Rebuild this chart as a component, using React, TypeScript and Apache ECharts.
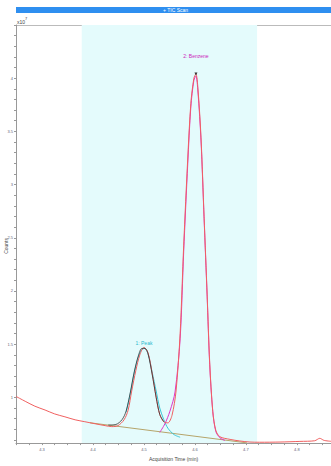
import React, { useEffect, useRef } from "react";
import * as echarts from "echarts";

const xTickLabels = [4.3, 4.4, 4.5, 4.6, 4.7, 4.8];
const yTickLabels = [1, 1.5, 2, 2.5, 3, 3.5, 4];

const rawTimes = [4.249, 4.267, 4.286, 4.306, 4.325, 4.345, 4.365, 4.384, 4.404, 4.424, 4.437, 4.449, 4.461, 4.469, 4.476, 4.484, 4.492, 4.5, 4.508, 4.516, 4.524, 4.531, 4.539, 4.547, 4.555, 4.563, 4.571, 4.578, 4.586, 4.592, 4.598, 4.602, 4.606, 4.612, 4.618, 4.624, 4.629, 4.635, 4.641, 4.649, 4.669, 4.688, 4.708, 4.727, 4.767, 4.806, 4.835, 4.845, 4.853, 4.867];
const rawCounts = [1.009, 0.963, 0.917, 0.881, 0.844, 0.817, 0.789, 0.771, 0.752, 0.734, 0.725, 0.734, 0.789, 0.88, 1.06, 1.25, 1.4, 1.47, 1.42, 1.23, 1.0, 0.84, 0.77, 0.76, 0.83, 1.06, 1.6, 2.43, 3.25, 3.76, 4.0, 4.04, 3.9, 3.44, 2.7, 1.97, 1.33, 0.87, 0.69, 0.63, 0.605, 0.59, 0.58, 0.578, 0.58, 0.586, 0.592, 0.615, 0.596, 0.587];

const fitTimes = [4.43, 4.445, 4.457, 4.465, 4.473, 4.481, 4.489, 4.496, 4.502, 4.508, 4.516, 4.524, 4.531, 4.539];
const fitCounts = [0.74, 0.745, 0.79, 0.87, 1.04, 1.24, 1.39, 1.46, 1.46, 1.41, 1.22, 1.0, 0.84, 0.77];

const peak1Times = [4.465, 4.473, 4.481, 4.489, 4.496, 4.502, 4.508, 4.516, 4.524, 4.531, 4.539, 4.547, 4.559, 4.571];
const peak1Counts = [0.86, 1.03, 1.23, 1.38, 1.45, 1.46, 1.41, 1.24, 1.06, 0.9, 0.79, 0.71, 0.65, 0.625];

const peak2Times = [4.531, 4.541, 4.551, 4.561, 4.571, 4.578, 4.586, 4.592, 4.598, 4.602, 4.606, 4.612, 4.618, 4.624, 4.629, 4.635, 4.641, 4.649, 4.659];
const peak2Counts = [0.67, 0.75, 0.87, 1.05, 1.55, 2.37, 3.2, 3.73, 3.98, 4.02, 3.87, 3.41, 2.68, 1.95, 1.31, 0.87, 0.68, 0.62, 0.595];

const baseTimes = [4.394, 4.702];
const baseCounts = [0.761, 0.572];

const regionStart = 4.378;
const regionEnd = 4.722;
const peakLabels = ["1: Peak", "2: Benzene"];
const peakApex = [[4.5, 1.47], [4.602, 4.04]];

const zip = (a: number[], b: number[]) => a.map((v, i) => [v, b[i]]);
const steps = (from: number, to: number, step: number) => {
  const out: number[] = [];
  for (let v = from; v <= to + 1e-9; v += step) out.push(Math.round(v * 1000) / 1000);
  return out;
};

export default function App() {
  const ref = useRef<HTMLDivElement>(null);
  useEffect(() => {
    if (!ref.current) return;
    const chart = echarts.init(ref.current, undefined, { renderer: "svg" });
    const font = "Arial, 'Liberation Sans', sans-serif";
    chart.setOption({
      animation: false,
      grid: { left: 16, right: 0, top: 25, bottom: 14, containLabel: false },
      graphic: [
        { type: "rect", left: 16, top: 7, shape: { width: 315, height: 6 }, style: { fill: "#2f8ff0" } },
        { type: "text", left: 163, top: 7, style: { text: "+ TIC Scan", fill: "#ffffff", fontSize: 5, fontFamily: font } },
        { type: "text", left: 17, top: 19, style: { text: "x10", fill: "#444", fontSize: 5, fontFamily: font } },
        { type: "text", left: 25, top: 16, style: { text: "7", fill: "#444", fontSize: 4, fontFamily: font } },
        { type: "text", left: 3, top: 238, rotation: Math.PI / 2, style: { text: "Counts", fill: "#444", fontSize: 5, fontFamily: font } },
        { type: "line", shape: { x1: 16, y1: 25.5, x2: 331, y2: 25.5 }, style: { stroke: "#bbbbbb", lineWidth: 1 } },
      ],
      xAxis: {
        type: "value",
        min: 4.249,
        max: 4.867,
        name: "Acquisition Time (min)",
        nameLocation: "middle",
        nameGap: 8,
        nameTextStyle: { fontSize: 5, color: "#444", fontFamily: font },
        axisLine: { lineStyle: { color: "#999", width: 1 } },
        axisTick: { show: true, length: 2, inside: false, customValues: steps(4.25, 4.85, 0.025), lineStyle: { color: "#999" } },
        axisLabel: { customValues: xTickLabels, fontSize: 4, color: "#667", margin: 4, fontFamily: font },
        splitLine: { show: false },
      },
      yAxis: {
        type: "value",
        min: 0.57,
        max: 4.5,
        axisLine: { show: true, lineStyle: { color: "#999", width: 1 } },
        axisTick: { show: true, length: 2, customValues: steps(0.6, 4.5, 0.1), lineStyle: { color: "#999" } },
        axisLabel: { customValues: yTickLabels, fontSize: 4, color: "#667", margin: 3, fontFamily: font },
        splitLine: { show: false },
      },
      series: [
        {
          type: "line",
          data: zip(baseTimes, baseCounts),
          symbol: "none",
          lineStyle: { color: "#b5a46a", width: 1 },
          z: 2,
          markArea: {
            silent: true,
            itemStyle: { color: "#e4fbfc" },
            data: [[{ xAxis: regionStart }, { xAxis: regionEnd }]],
          },
        },
        {
          type: "line",
          data: zip(peak1Times, peak1Counts),
          symbol: "none",
          smooth: 0.3,
          lineStyle: { color: "#3cc8d8", width: 1 },
          z: 3,
          markPoint: {
            symbol: "circle",
            symbolSize: 0,
            data: [{ coord: peakApex[0], label: { show: true, formatter: peakLabels[0], position: "top", distance: 2, color: "#2bb8cc", fontSize: 5, fontFamily: font } }],
          },
        },
        {
          type: "line",
          data: zip(peak2Times, peak2Counts),
          symbol: "none",
          smooth: 0.3,
          lineStyle: { color: "#dd33cc", width: 1 },
          z: 3,
          markPoint: {
            symbol: "triangle",
            symbolRotate: 180,
            symbolSize: 3,
            itemStyle: { color: "#333" },
            data: [{ coord: peakApex[1], label: { show: true, formatter: peakLabels[1], position: "top", distance: 14, color: "#cc22bb", fontSize: 5, fontFamily: font } }],
          },
        },
        {
          type: "line",
          data: zip(rawTimes, rawCounts),
          symbol: "none",
          smooth: 0.3,
          lineStyle: { color: "#f06060", width: 1 },
          z: 4,
        },
        {
          type: "line",
          data: zip(fitTimes, fitCounts),
          symbol: "none",
          smooth: 0.3,
          lineStyle: { color: "#333333", width: 0.8 },
          z: 5,
        },
      ],
    });
    return () => chart.dispose();
  }, []);
  return <div ref={ref} style={{ width: 331, height: 466, position: "absolute", left: 0, top: 0 }} />;
}
